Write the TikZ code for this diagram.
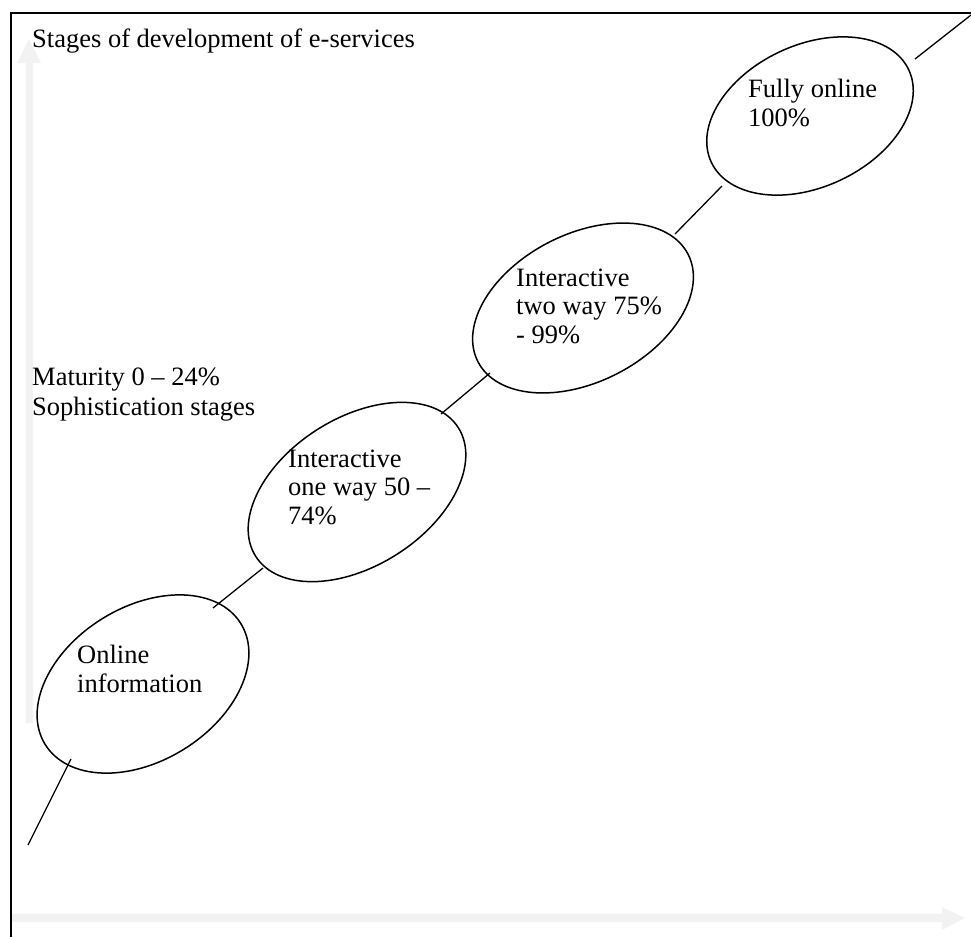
\documentclass[tikz,border=0pt]{standalone}
\usepackage{fontspec}
\setmainfont{Liberation Serif}
\usetikzlibrary{shapes.geometric}
\definecolor{axisgrey}{RGB}{242,242,242}
\begin{document}
\begin{tikzpicture}[x=1pt,y=-1pt,
  stage/.style={ellipse, draw, line width=1.5pt, fill=white, inner sep=0pt},
  % multi-line captions are placed by the baseline of their last line
  caption/.style={anchor=base west, align=left, inner sep=0pt,
    font=\fontsize{26.5}{28.5}\selectfont},
  link/.style={line width=1.3pt},
  axisfill/.style={fill=axisgrey, draw=none}]
\useasboundingbox (0,0) rectangle (971,937);

% light grey axes
\fill[axisfill] (25.5,723) -- (25.5,63) -- (17,63) -- (29,39) -- (41,63) -- (33,63) -- (33,723) -- cycle;
\fill[axisfill] (11,913.5) -- (942,913.5) -- (942,907) -- (965,918) -- (942,930) -- (942,922) -- (11,922) -- cycle;

% frame
\draw[line width=2pt, line join=miter] (11,937) -- (11,13) -- (971,13);

% stages
\node[stage, rotate=31.7, minimum width=230pt, minimum height=154pt] (e1) at (143,684) {};
\node[stage, rotate=32.4, minimum width=240pt, minimum height=148pt] (e2) at (357,492) {};
\node[stage, rotate=27,   minimum width=236pt, minimum height=148pt] (e3) at (583,308) {};
\node[stage, rotate=25,   minimum width=218pt, minimum height=142pt] (e4) at (810,116) {};

% connector end points
\coordinate (s0) at (28,845);   \coordinate (t0) at (71,759);
\coordinate (s1) at (213,608);  \coordinate (t1) at (263,568);
\coordinate (s2) at (441,414);  \coordinate (t2) at (490,373);
\coordinate (s3) at (675,234);  \coordinate (t3) at (722,186);
\coordinate (s4) at (915,59);   \coordinate (t4) at (971,15);

\draw[link] (s0) -- (t0);
\draw[link] (s1) -- (t1);
\draw[link] (s2) -- (t2);
\draw[link] (s3) -- (t3);
\draw[link] (s4) -- (t4);

% texts
\node[caption] (title) at (32,47) {Stages of development of e-services};
\node[caption, font=\fontsize{26.5}{30.7}\selectfont] (maturity) at (32,415.7) {Maturity 0 – 24\%\\Sophistication stages};
\node[caption] (l1) at (77,692) {Online\\information};
\node[caption] (l2) at (288,524) {Interactive\\one way 50 –\\74\%};
\node[caption] (l3) at (516,343) {Interactive\\two way 75\%\\- 99\%};
\node[caption] (l4) at (748,126) {Fully online\\100\%};
\end{tikzpicture}
\end{document}
